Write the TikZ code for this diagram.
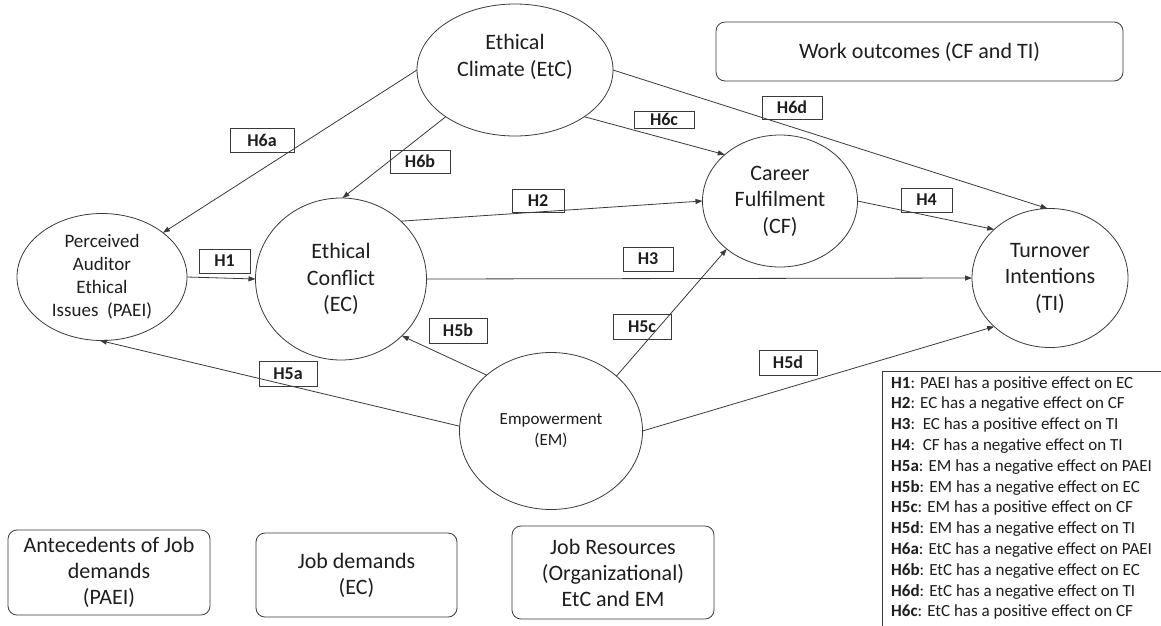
\documentclass[tikz,border=0pt]{standalone}
\usepackage{fontspec}
\setmainfont{Carlito}
\usetikzlibrary{shapes.geometric,arrows.meta}
\definecolor{ln}{HTML}{3A3A3A}
\definecolor{tx}{HTML}{1E1E1E}
\begin{document}
\begin{tikzpicture}[x=1pt,y=-1pt,
  ell/.style={ellipse,draw=ln,line width=0.8pt,inner sep=0pt,outer sep=0pt,text=tx,align=center},
  bigtxt/.style={font=\fontsize{22}{26.5}\selectfont},
  txt/.style={inner sep=0pt,text=tx,align=center},
  hyp/.style={draw=ln,line width=0.8pt,inner sep=0pt,font=\fontsize{18}{20}\selectfont\bfseries,text=tx},
  grp/.style={draw=ln,line width=0.8pt,rounded corners=9pt,inner sep=0pt,align=center,text=tx,font=\fontsize{22}{26}\selectfont},
  arr/.style={draw=ln,line width=0.8pt,-{Triangle[length=7pt,width=5pt]}}]
\fill[white] (0,0) rectangle (1161,625);
\useasboundingbox (0,0) rectangle (1161,625);

% ellipses
\node[ell,minimum width=196pt,minimum height=132pt] (etc) at (515,70) {};
\node[txt,font=\fontsize{22}{27}\selectfont] (etctext) at (515,57) {Ethical\\Climate (EtC)};
\node[ell,minimum width=170pt,minimum height=127pt,font=\fontsize{19}{23}\selectfont] (paei) at (102,277) {Perceived\\Auditor\\Ethical\\Issues\ \ (PAEI)};
\node[ell,bigtxt,minimum width=171pt,minimum height=162pt] (ec) at (341,279) {Ethical\\Conflict\\(EC)};
\node[ell,bigtxt,minimum width=155pt,minimum height=132pt] (cf) at (780,201) {Career\\Fulfilment\\(CF)};
\node[ell,bigtxt,minimum width=156pt,minimum height=139pt] (ti) at (1050,278) {Turnover\\Intentions\\(TI)};
\node[ell,minimum width=183pt,minimum height=157pt,font=\fontsize{17}{21}\selectfont] (em) at (551,431) {Empowerment\\(EM)};

% group boxes
\node[grp,minimum width=407pt,minimum height=59pt,font=\fontsize{22}{26}\selectfont] (wo) at (919.5,51.5) {Work outcomes (CF and TI)};
\node[grp,minimum width=202pt,minimum height=85pt] (ante) at (109,572.5) {Antecedents of Job\\demands\\(PAEI)};
\node[grp,minimum width=201pt,minimum height=84pt] (jd) at (356.5,575) {Job demands\\(EC)};
\node[grp,minimum width=202pt,minimum height=93pt] (jr) at (613,572.5) {Job Resources\\(Organizational)\\EtC and EM};

% arrows
\draw[arr] (etc.180) -- (paei.36);
\draw[arr] (etc.214) -- (ec.89);
\draw[arr] (etc.326) -- (cf.140);
\draw[arr] (etc.0) -- (ti.92);
\draw[arr] (ec.44) -- (cf.180);
\draw[arr] (paei.0) -- (ec.180);
\draw[arr] (ec.0) -- (ti.180);
\draw[arr] (cf.0) -- (ti.139);
\draw[arr] (em.177) -- (paei.268);
\draw[arr] (em.139) -- (ec.317);
\draw[arr] (em.40) -- (cf.222);
\draw[arr] (em.0) -- (ti.221);

% hypothesis labels
\node[hyp,minimum width=64pt,minimum height=24pt] (h6a) at (262,140) {H6a};
\node[hyp,minimum width=60pt,minimum height=23pt] (h6b) at (420,161.5) {H6b};
\node[hyp,minimum width=52pt,minimum height=23pt] (h2) at (538,200.5) {H2};
\node[hyp,minimum width=51pt,minimum height=24pt] (h1) at (224.5,261) {H1};
\node[hyp,minimum width=60pt,minimum height=17pt] (h6c) at (664,119.5) {H6c};
\node[hyp,minimum width=60pt,minimum height=23pt] (h6d) at (792,107.5) {H6d};
\node[hyp,minimum width=51pt,minimum height=24pt] (h4) at (926.5,200) {H4};
\node[hyp,minimum width=50pt,minimum height=24pt] (h3) at (648,259) {H3};
\node[hyp,minimum width=58pt,minimum height=25pt] (h5b) at (458,330.5) {H5b};
\node[hyp,minimum width=58pt,minimum height=25pt] (h5a) at (288,373.5) {H5a};
\node[hyp,minimum width=58pt,minimum height=25pt] (h5c) at (642,326.5) {H5c};
\node[hyp,minimum width=58pt,minimum height=25pt] (h5d) at (788,362.5) {H5d};

% legend
\draw[ln,line width=0.8pt] (882,626) -- (882,371) -- (1162,371);
\node[anchor=north west,inner sep=0pt,align=left,text=tx,font=\fontsize{17}{20.8}\selectfont] (legend) at (891,376) {%
\textbf{H1}: PAEI has a positive effect on EC\\
\textbf{H2}: EC has a negative effect on CF\\
\textbf{H3}:\ \ EC has a positive effect on TI\\
\textbf{H4}:\ \ CF has a negative effect on TI\\
\textbf{H5a}: EM has a negative effect on PAEI\\
\textbf{H5b}: EM has a negative effect on EC\\
\textbf{H5c}: EM has a positive effect on CF\\
\textbf{H5d}: EM has a negative effect on TI\\
\textbf{H6a}: EtC has a negative effect on PAEI\\
\textbf{H6b}: EtC has a negative effect on EC\\
\textbf{H6d}: EtC has a negative effect on TI\\
\textbf{H6c}: EtC has a positive effect on CF};
\end{tikzpicture}
\end{document}
